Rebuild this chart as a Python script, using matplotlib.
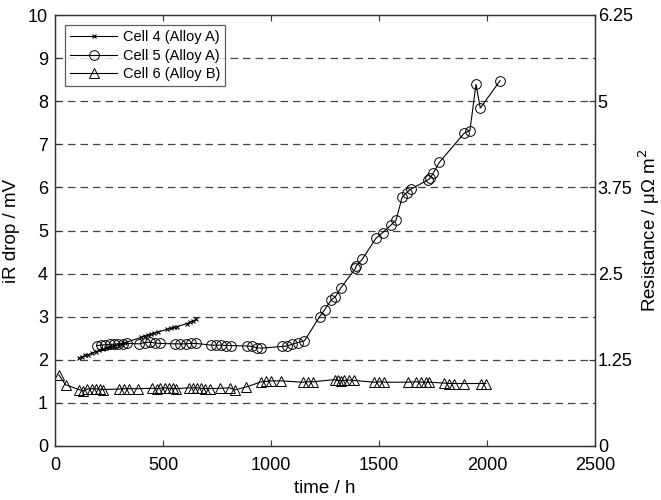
import matplotlib
matplotlib.use("Agg")
import matplotlib.pyplot as plt
import numpy as np

plt.rcParams['font.family'] = ['Liberation Sans', 'DejaVu Sans']

# Cell 4 (Alloy A)
t4 = [110, 125, 140, 155, 170, 190, 205, 220, 235, 250, 265, 280, 295, 310, 325,
      400, 415, 430, 445, 460, 475, 520, 535, 550, 565, 610, 625, 640, 655]
v4 = [2.04, 2.07, 2.10, 2.12, 2.15, 2.19, 2.22, 2.25, 2.27, 2.29, 2.31, 2.33, 2.35, 2.37, 2.40,
      2.52, 2.55, 2.57, 2.59, 2.62, 2.64, 2.71, 2.73, 2.75, 2.77, 2.84, 2.87, 2.90, 2.94]

# Cell 5 (Alloy A)
t5 = [193, 213, 233, 253, 273, 293, 313, 333,
      390, 416, 439, 462, 485,
      555, 581, 605, 629, 652,
      724, 747, 770, 793, 816,
      889, 912, 935, 955,
      1050, 1074, 1098, 1124, 1155,
      1225, 1248, 1279, 1298, 1322, 1391, 1394, 1422, 1486, 1517, 1556, 1579,
      1607, 1628, 1648, 1725, 1736, 1751, 1779, 1895, 1921, 1949, 1969, 2061]
v5 = [2.33, 2.34, 2.35, 2.36, 2.36, 2.37, 2.37, 2.38,
      2.37, 2.40, 2.41, 2.39, 2.38,
      2.37, 2.37, 2.37, 2.38, 2.38,
      2.34, 2.34, 2.34, 2.33, 2.33,
      2.32, 2.31, 2.28, 2.27,
      2.31, 2.32, 2.36, 2.40, 2.44,
      3.00, 3.16, 3.39, 3.46, 3.66, 4.12, 4.18, 4.33, 4.82, 4.95, 5.13, 5.24,
      5.77, 5.88, 5.96, 6.17, 6.21, 6.33, 6.58, 7.26, 7.32, 8.39, 7.84, 8.48]

# Cell 6 (Alloy B)
t6 = [18, 49, 111, 131, 149, 170, 188, 208, 223, 296, 319, 342, 384,
      450, 470, 488, 508, 527, 547, 562, 619, 639, 658, 678, 696, 716, 766,
      809, 832, 886, 955, 978, 1001, 1048, 1148, 1171, 1194,
      1294, 1308, 1325, 1340, 1363, 1386, 1479, 1502, 1525,
      1633, 1671, 1694, 1717, 1733, 1802, 1825, 1848, 1895, 1972, 1995]
v6 = [1.65, 1.42, 1.31, 1.28, 1.32, 1.33, 1.33, 1.32, 1.31, 1.32, 1.33, 1.33, 1.33,
      1.34, 1.33, 1.34, 1.35, 1.34, 1.34, 1.33, 1.35, 1.35, 1.35, 1.34, 1.33, 1.33, 1.34,
      1.35, 1.30, 1.37, 1.49, 1.50, 1.51, 1.51, 1.48, 1.49, 1.49,
      1.54, 1.52, 1.51, 1.52, 1.53, 1.52, 1.48, 1.49, 1.48,
      1.48, 1.49, 1.48, 1.48, 1.48, 1.46, 1.45, 1.45, 1.45, 1.45, 1.45]

right_ticks = [0, 1.25, 2.5, 3.75, 5, 6.25]
right_labels = ['0', '1.25', '2.5', '3.75', '5', '6.25']

fig = plt.figure(figsize=(6.61, 5.0), dpi=100)
ax = fig.add_axes([55/661, 1-446/500, (595-55)/661, (446-15)/500])

lc = 'black'
ax.plot(t4, v4, color=lc, lw=0.8, marker='x', ms=3, mew=0.8, label='Cell 4 (Alloy A)')
ax.plot(t5, v5, color=lc, lw=0.8, marker='o', ms=7, mfc='none', mew=0.7, label='Cell 5 (Alloy A)')
ax.plot(t6, v6, color=lc, lw=0.8, marker='^', ms=7.5, mfc='none', mew=0.7, label='Cell 6 (Alloy B)')

ax.set_xlim(0, 2500)
ax.set_ylim(0, 10)
ax.set_xticks(np.arange(0, 2501, 500))
ax.set_yticks(np.arange(0, 11, 1))
for yv in range(1, 10):
    ax.axhline(yv, color='#444444', lw=0.9, ls=(0, (6, 4)), zorder=0)

ax.tick_params(axis='both', direction='in', labelsize=13, length=4, top=True, color='#333333')
ax.tick_params(axis='x', pad=8)
ax.tick_params(axis='y', pad=5)
ax.set_xlabel('time / h', fontsize=13.5, labelpad=4)
ax.set_ylabel('iR drop / mV', fontsize=13.5, labelpad=6)
for s in ax.spines.values():
    s.set_color('#333333')
    s.set_linewidth(0.9)

ax2 = ax.twinx()
ax2.set_ylim(0, 6.25)
ax2.set_yticks(right_ticks)
ax2.set_yticklabels(right_labels)
ax2.tick_params(direction='in', labelsize=13, length=4, color='#333333', pad=2)
ax2.set_ylabel('Resistance / μΩ m$^2$', fontsize=13.5, labelpad=3)
for s in ax2.spines.values():
    s.set_color('#333333')
    s.set_linewidth(0.9)

leg = ax.legend(loc='upper left', fontsize=10.5, frameon=True, fancybox=False,
                edgecolor='#333333', borderaxespad=0.7, handlelength=3.2,
                borderpad=0.35, labelspacing=0.3, handletextpad=0.4)
leg.get_frame().set_linewidth(0.9)

fig.savefig('out.png', dpi=100)
